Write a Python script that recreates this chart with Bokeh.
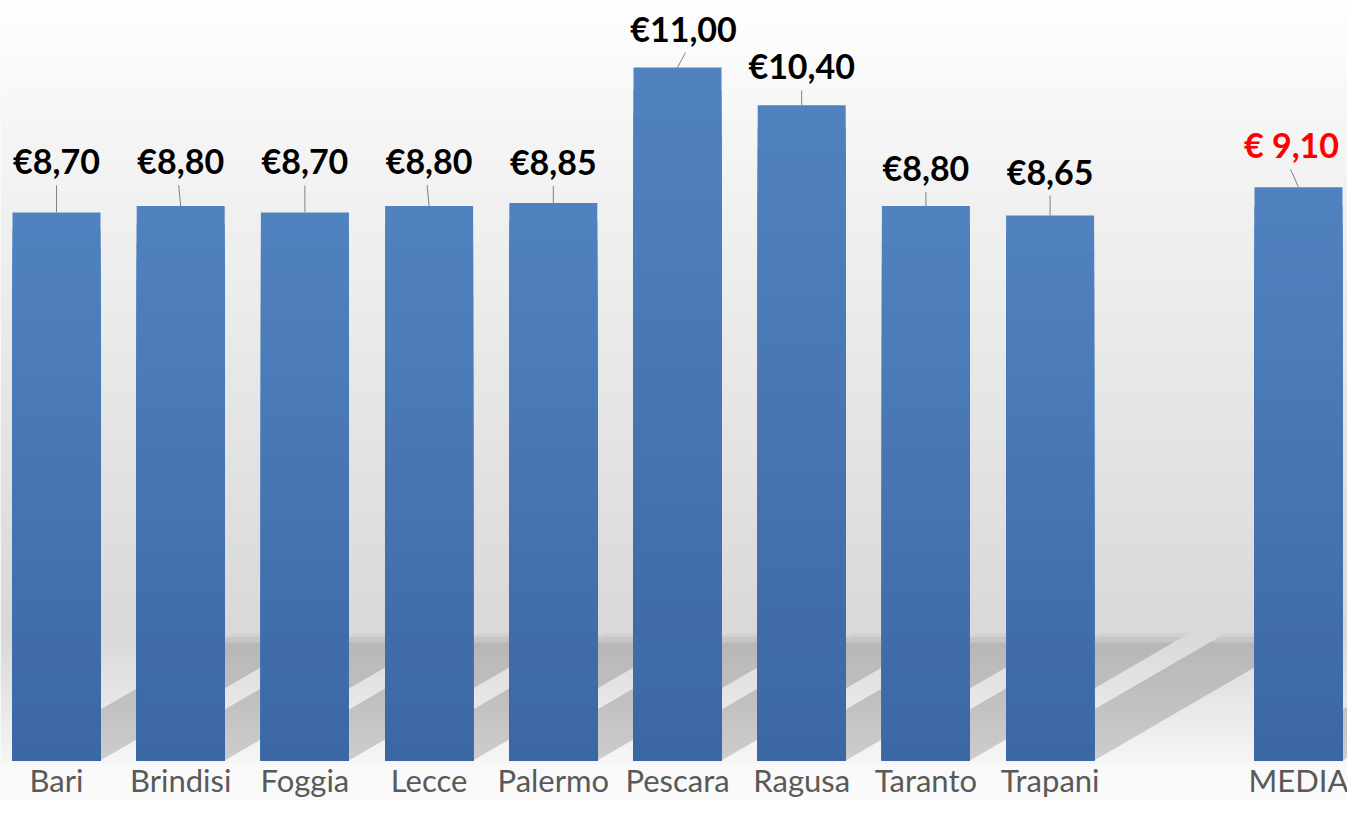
import numpy as np
from bokeh.plotting import figure
from bokeh.models import ColumnDataSource, Range1d
from bokeh.core.properties import value
from bokeh.embed import file_html
from bokeh.resources import INLINE

# ---------------- data ----------------
CITIES = ["Bari", "Brindisi", "Foggia", "Lecce", "Palermo", "Pescara", "Ragusa", "Taranto", "Trapani"]
PRICES = [8.70, 8.80, 8.70, 8.80, 8.85, 11.00, 10.40, 8.80, 8.65]
MEDIA_LABEL = "MEDIA"
MEDIA_PRICE = 9.10

# ---------------- layout / style ----------------
W, H = 1347, 800
BASE_PX = 760.0          # pixel row of the bars' baseline
SLOT_PX = 124.2
FIRST_PX = 56.0
PX_PER_UNIT = 63.0
X_START = -FIRST_PX / SLOT_PX
X_END = (W - FIRST_PX) / SLOT_PX
Y_START = -(H - BASE_PX) / PX_PER_UNIT
Y_END = BASE_PX / PX_PER_UNIT
BAR_W = 88.0 / SLOT_PX
TEXT_FIX = 13.5          # renderer places alphabetic baseline this much lower
CAT_BASELINE_PX = 33     # category label baseline below bar base

# label placement (pixels above bar top for text centre, horizontal shifts)
LABEL_RISE = [50, 44, 50, 44, 40, 38, 38, 37, 43, 41]
LABEL_SHIFT = [0, 0, 0, 0, 0, 6, 0, 0, 0, -7]
LEADER_SHIFT = [0, -2, 0, -2, 0, 8, 0, 0, 0, -8]

slots = list(range(len(CITIES))) + [len(CITIES) + 1]
names = CITIES + [MEDIA_LABEL]
vals = PRICES + [MEDIA_PRICE]
texts = ["€" + f"{v:.2f}".replace(".", ",") for v in PRICES] + \
        ["€ " + f"{MEDIA_PRICE:.2f}".replace(".", ",")]
tcolors = ["#000000"] * len(PRICES) + ["#ff0000"]

p = figure(width=W, height=H, output_backend="svg", toolbar_location=None,
           x_range=Range1d(X_START, X_END), y_range=Range1d(Y_START, Y_END),
           min_border_left=0, min_border_right=0, min_border_top=0,
           min_border_bottom=0, border_fill_color="#fafafa",
           background_fill_color="#fafafa")
p.outline_line_color = None
p.grid.visible = False
p.xaxis.visible = False
p.yaxis.visible = False

# ---------------- background gradient ----------------
rows = 400
ys = Y_START + (np.arange(rows) + 0.5) / rows * (Y_END - Y_START)
pix = BASE_PX - ys * PX_PER_UNIT
stops_px = [0, 140, 633, 690, 757, 766, 800]
stops_val = [255, 245, 217, 229, 245, 249, 251]
g = np.interp(pix, stops_px, stops_val).astype(np.uint8)
img = np.zeros((rows, 2), dtype=np.uint32)
view = img.view(dtype=np.uint8).reshape((rows, 2, 4))
view[:, :, 0] = g[:, None]
view[:, :, 1] = g[:, None]
view[:, :, 2] = g[:, None]
view[:, :, 3] = 255
p.image_rgba(image=[img], x=X_START, y=Y_START, dw=X_END - X_START, dh=Y_END - Y_START)

# ---------------- shadows ----------------
SH_DX = 219.0 / SLOT_PX
SH_H = 127.0 / PX_PER_UNIT
for frac, alpha in [(1.0, 0.04), (0.97, 0.05), (0.93, 0.08)]:
    xs, yy = [], []
    for s in slots:
        l, r = s - BAR_W / 2, s + BAR_W / 2
        h = SH_H * frac
        d = SH_DX * frac
        xs.append([l, r, r + d, l + d])
        yy.append([0, 0, h, h])
    p.patches(xs=xs, ys=yy, fill_color="#000000", fill_alpha=alpha, line_color=None)

# ---------------- bars (vertical gradient via layered bars) ----------------
N = 30
top_c = np.array([0x51, 0x82, 0xc0])
bot_c = np.array([0x3b, 0x68, 0xa2])
bx, btop, bcol = [], [], []
for k in range(N, 0, -1):
    t = (k - 1) / (N - 1)
    c = bot_c + (top_c - bot_c) * t
    col = "#%02x%02x%02x" % tuple(int(round(v)) for v in c)
    for s, v in zip(slots, vals):
        bx.append(s)
        btop.append(v * k / N)
        bcol.append(col)
p.vbar(x="x", top="top", width=BAR_W, bottom=0, fill_color="c", line_color=None,
       source=ColumnDataSource(dict(x=bx, top=btop, c=bcol)))

# ---------------- leader lines ----------------
lx0, ly0, lx1, ly1 = [], [], [], []
for s, v, rise, ls in zip(slots, vals, LABEL_RISE, LEADER_SHIFT):
    lx0.append(s)
    ly0.append(v)
    lx1.append(s + ls / SLOT_PX)
    ly1.append(v + (rise - 23) / PX_PER_UNIT)
p.segment(x0=lx0, y0=ly0, x1=lx1, y1=ly1, line_color="#808080", line_width=1)

# ---------------- value labels ----------------
src = ColumnDataSource(dict(
    x=[s + sh / SLOT_PX for s, sh in zip(slots, LABEL_SHIFT)],
    y=[v + (rise - 12 + TEXT_FIX) / PX_PER_UNIT for v, rise in zip(vals, LABEL_RISE)],
    t=texts, c=tcolors))
p.text(x="x", y="y", text="t", text_color="c", source=src,
       text_font=value("Lato"), text_font_style="bold", text_font_size="34px",
       text_align="center", text_baseline="alphabetic")

# ---------------- category labels ----------------
csrc = ColumnDataSource(dict(
    x=slots, y=[-(CAT_BASELINE_PX - TEXT_FIX) / PX_PER_UNIT] * len(slots), t=names))
p.text(x="x", y="y", text="t", source=csrc, text_color="#595959",
       text_font=value("Lato"), text_font_size="31px",
       text_align="center", text_baseline="alphabetic")

open("out.html", "w").write(file_html(p, INLINE))
